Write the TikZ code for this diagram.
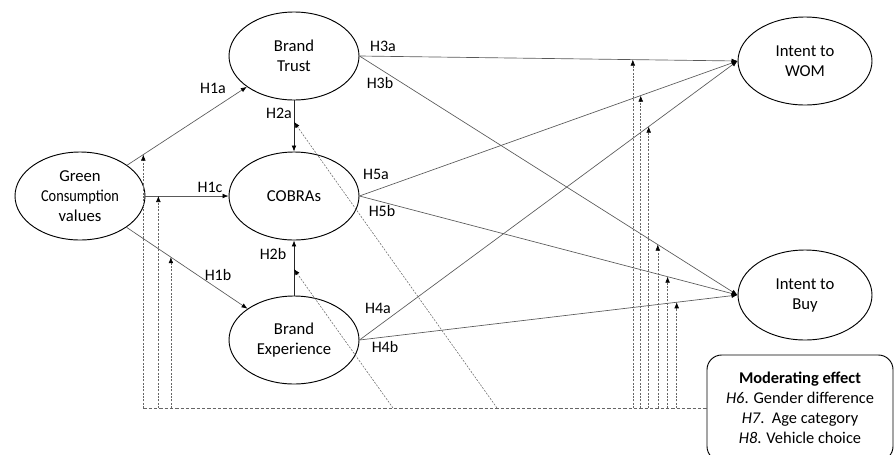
\documentclass[tikz,border=0pt]{standalone}
\usepackage{fontspec}
\setmainfont{Carlito}
\usetikzlibrary{shapes.geometric,arrows.meta}

\begin{document}
\begin{tikzpicture}[x=0.75pt,y=-0.75pt]
    % Define styles
    \tikzstyle{construct} = [ellipse, draw=black, line width=0.7pt, minimum width=97.5pt, minimum height=66pt,
                             inner sep=0pt, align=center, font=\fontsize{12.5}{15}\selectfont]
    \tikzstyle{modbox} = [rectangle, rounded corners=11pt, draw=black, line width=0.7pt, minimum width=139.5pt,
                          minimum height=79.5pt, align=center, font=\fontsize{12.3}{15}\selectfont]
    \tikzstyle{hyp} = [inner sep=0pt, font=\fontsize{12}{14}\selectfont]
    \tikzstyle{link} = [draw=black!65, line width=0.5pt, -{Latex[length=4.5pt,width=3.5pt,color=black]}]
    \tikzstyle{baseline} = [draw=black!60, line width=0.6pt, dash pattern=on 2.5pt off 1.5pt]
    \tikzstyle{modarrow} = [draw=black!60, line width=0.4pt, dash pattern=on 1.5pt off 1pt,
                            -{Latex[length=4.5pt,width=3.5pt,color=black]}]

    \path[use as bounding box, clip] (0,0) rectangle (895,454);

    % Constructs
    \node[construct] (gcv) at (80,196) {Green\\\scalebox{0.86}[1]{Consumption}\\values};
    \node[construct] (bt) at (294,56) {Brand\\Trust};
    \node[construct] (cobras) at (294,196) {COBRAs};
    \node[construct] (be) at (294,340) {Brand\\Experience};
    \node[construct, minimum width=100.5pt] (wom) at (805,61) {Intent to\\WOM};
    \node[construct, minimum width=100.5pt, minimum height=67.5pt] (buy) at (805,295) {Intent to\\Buy};

    % Moderator box
    \node[modbox] (mod) at (800,408) {\textbf{Moderating effect}\\\textit{H6}. Gender difference\\
        \textit{H7}.~~Age category\\\textit{H8}. Vehicle choice};

    % Direct paths
    \draw[link] (gcv) -- coordinate[pos=0.135] (m1a) (bt);
    \draw[link] (gcv.east) -- coordinate[pos=0.155] (m1c) (cobras.west);
    \draw[link] (gcv) -- coordinate[pos=0.367] (m1b) (be);
    \draw[link, draw=black!85] (bt.south) -- coordinate[pos=0.42] (m2a) (cobras.north);
    \draw[link, draw=black!85] (be.north) -- coordinate[pos=0.48] (m2b) (cobras.south);
    \draw[link] (bt.east) -- coordinate[pos=0.723] (m3a) (wom.west);
    \draw[link] (bt.east) -- coordinate[pos=0.789] (m3b) (buy.west);
    \draw[link] (cobras.east) -- coordinate[pos=0.744] (m5a) (wom.west);
    \draw[link] (cobras.east) -- coordinate[pos=0.815] (m5b) (buy.west);
    \draw[link] (be.east) -- coordinate[pos=0.765] (m4a) (wom.west);
    \draw[link] (be.east) -- coordinate[pos=0.839] (m4b) (buy.west);

    % Path labels
    \node[hyp] (h1a) at (213,88) {H1a};
    \node[hyp] (h1c) at (210,187) {H1c};
    \node[hyp] (h1b) at (218,275) {H1b};
    \node[hyp] (h2a) at (279,113) {H2a};
    \node[hyp] (h2b) at (273,254) {H2b};
    \node[hyp] (h3a) at (383,46) {H3a};
    \node[hyp] (h3b) at (380,83) {H3b};
    \node[hyp] (h5a) at (376,174) {H5a};
    \node[hyp] (h5b) at (382,211) {H5b};
    \node[hyp] (h4a) at (378,308) {H4a};
    \node[hyp] (h4b) at (385,347) {H4b};

    % Moderating paths
    \coordinate (d2b) at (393,408);
    \coordinate (d2a) at (497,408);
    \draw[baseline] (m1a |- mod.west) -- (mod.west);
    \foreach \m in {m1a,m1c,m1b,m3a,m5a,m4a,m3b,m5b,m4b}
        \draw[modarrow] (\m |- mod.west) -- (\m);
    \draw[modarrow] (d2b) -- (m2b);
    \draw[modarrow] (d2a) -- (m2a);
\end{tikzpicture}
\end{document}
